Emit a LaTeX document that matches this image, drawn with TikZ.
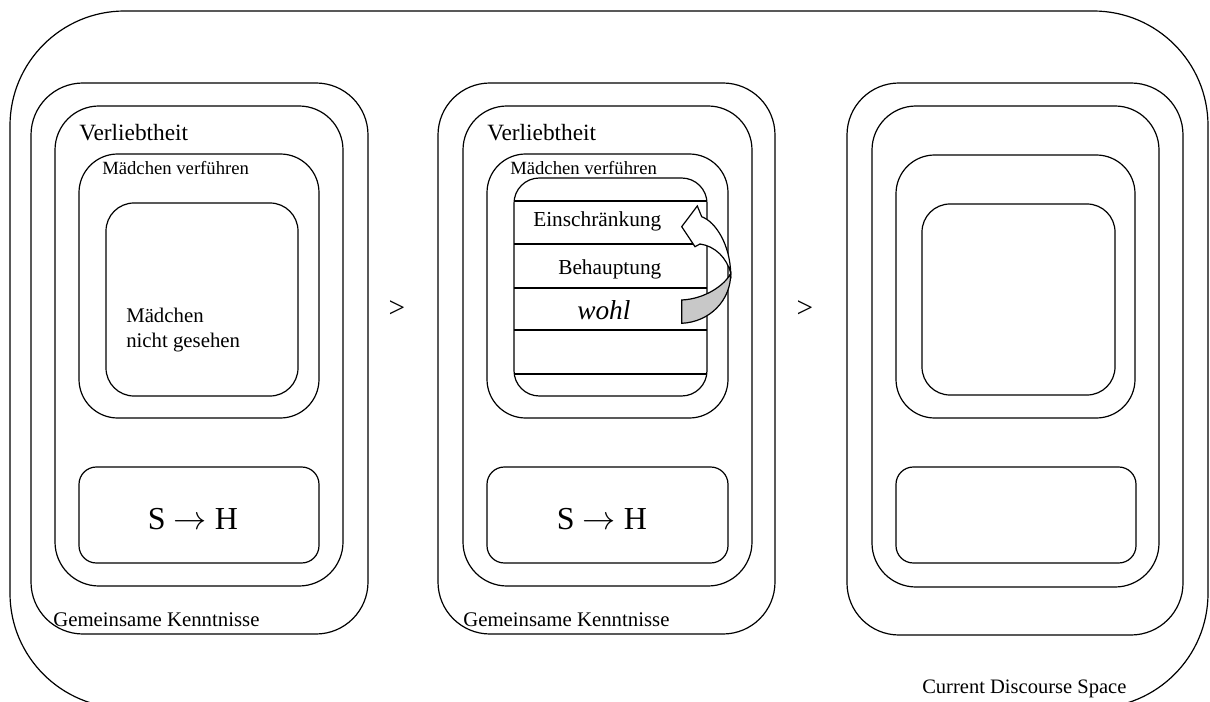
\documentclass[tikz,border=0pt]{standalone}
\usepackage{fontspec}
\setmainfont{Liberation Serif}
\usepackage{xcolor}
\usepackage{tikz}

\definecolor{foldgray}{RGB}{200,200,200}

\begin{document}
\begin{tikzpicture}[x=0.75pt,y=-0.75pt,
    frame/.style={draw, line width=0.9pt},
    lbl/.style={inner sep=0pt, anchor=base west},
    ctr/.style={inner sep=0pt, anchor=base}]
    \useasboundingbox (0,0) rectangle (1210,702);

    % Current discourse space
    \draw[frame, rounded corners=86pt] (10,11) rectangle (1208,708);
    \node[lbl, font=\fontsize{15.4pt}{18pt}\selectfont] (cds) at (922,693) {Current Discourse Space};

    % Left panel
    \draw[frame, rounded corners=39pt] (31,83) rectangle (368,634);
    \draw[frame, rounded corners=33pt] (55,106) rectangle (343,586);
    \draw[frame, rounded corners=29pt] (79,154) rectangle (319,418);
    \draw[frame, rounded corners=21pt] (106,203) rectangle (298,396);
    \draw[frame, rounded corners=13pt] (79,467) rectangle (319,563);
    \node[lbl, font=\fontsize{17.5pt}{20pt}\selectfont] (verlL) at (79,141) {Verliebtheit};
    \node[lbl, font=\fontsize{14pt}{17pt}\selectfont] (maedL) at (102,175) {Mädchen verführen};
    \node[lbl, font=\fontsize{15.6pt}{18pt}\selectfont] (nichtA) at (126,322) {Mädchen};
    \node[lbl, font=\fontsize{15.6pt}{18pt}\selectfont] (nichtB) at (126,347) {nicht gesehen};
    \node[ctr, font=\fontsize{24pt}{28pt}\selectfont] (shL) at (193,529) {S $\rightarrow$ H};
    \node[lbl, font=\fontsize{15.6pt}{18pt}\selectfont] (gemL) at (53,626) {Gemeinsame Kenntnisse};

    % Order sign
    \node[ctr, font=\fontsize{22pt}{26pt}\selectfont] (gtA) at (397,318) {>};

    % Middle panel
    \draw[frame, rounded corners=39pt] (438,83) rectangle (775,634);
    \draw[frame, rounded corners=33pt] (463,106) rectangle (752,586);
    \draw[frame, rounded corners=29pt] (487,154) rectangle (728,418);
    \draw[frame, rounded corners=19pt] (514,178) rectangle (707,396);
    \draw[frame, rounded corners=13pt] (487,467) rectangle (728,563);
    % Stack of layers
    \draw[frame] (514,201) -- (707,201);
    \draw[frame] (514,244) -- (707,244);
    \draw[draw, line width=1.8pt] (514,288) -- (707,288);
    \draw[frame] (514,330) -- (707,330);
    \draw[frame] (514,374) -- (707,374);
    \node[lbl, font=\fontsize{17.5pt}{20pt}\selectfont] (verlM) at (487,141) {Verliebtheit};
    \node[lbl, font=\fontsize{14pt}{17pt}\selectfont] (maedM) at (510,175) {Mädchen verführen};
    \node[lbl, font=\fontsize{16pt}{19pt}\selectfont] (einschr) at (533,227) {Einschränkung};
    \node[lbl, font=\fontsize{16pt}{19pt}\selectfont] (behaupt) at (558,275) {Behauptung};
    \node[lbl, font=\fontsize{20.5pt}{24pt}\selectfont\itshape] (wohl) at (577,320) {wohl};
    \node[ctr, font=\fontsize{24pt}{28pt}\selectfont] (shM) at (602,529) {S $\rightarrow$ H};
    \node[lbl, font=\fontsize{15.6pt}{18pt}\selectfont] (gemM) at (463,626) {Gemeinsame Kenntnisse};

    % Curved arrow from wohl up to Einschraenkung
    \draw[frame, fill=white] (681.7,226.7) -- (697.3,206) -- (701.7,216.7)
        .. controls (716,222) and (730,245) .. (730.7,273.3)
        .. controls (727,258) and (715,246) .. (700,244)
        -- (695,246.7) -- cycle;
    \draw[frame, fill=foldgray] (730.7,273.3)
        .. controls (731,300) and (710,322) .. (681.7,323.3)
        -- (681.7,300)
        .. controls (705,299) and (725,285) .. cycle;

    % Order sign
    \node[ctr, font=\fontsize{22pt}{26pt}\selectfont] (gtB) at (805,318) {>};

    % Right panel
    \draw[frame, rounded corners=39pt] (847,83) rectangle (1183,635);
    \draw[frame, rounded corners=33pt] (872,106) rectangle (1159,587);
    \draw[frame, rounded corners=29pt] (896,155) rectangle (1135,418);
    \draw[frame, rounded corners=21pt] (922,204) rectangle (1115,395);
    \draw[frame, rounded corners=13pt] (896,467) rectangle (1136,563);
\end{tikzpicture}
\end{document}
